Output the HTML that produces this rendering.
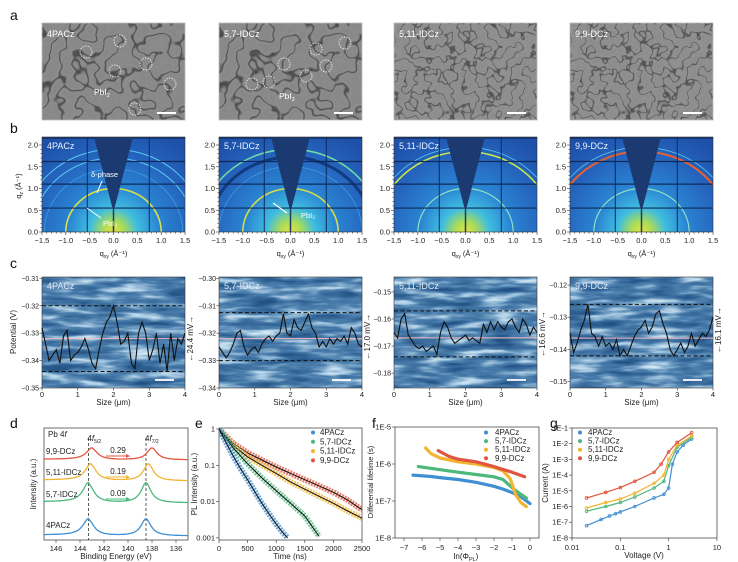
<!DOCTYPE html>
<html><head><meta charset="utf-8"><style>
html,body{margin:0;padding:0;background:#fff}
svg{display:block;font-family:"Liberation Sans",Arial,sans-serif}
</style></head><body>
<svg id="fig" width="738" height="562" viewBox="0 0 738 562" xmlns="http://www.w3.org/2000/svg">
<defs>
<filter id="semA" x="0" y="0" width="1" height="1" color-interpolation-filters="sRGB"><feTurbulence type="fractalNoise" baseFrequency="0.055" numOctaves="2" seed="3"/><feColorMatrix type="matrix" values="1 0 0 0 0 1 0 0 0 0 1 0 0 0 0 0 0 0 0 1"/><feComponentTransfer><feFuncR type="table" tableValues="0.53 0.55 0.53 0.54 0.55 0.53 0.54 0.55 0.53 0.54 0.55 0.54 0.28 0.54 0.55 0.53 0.54 0.55 0.53 0.54 0.55 0.54 0.53 0.55 0.54"/><feFuncG type="table" tableValues="0.53 0.55 0.53 0.54 0.55 0.53 0.54 0.55 0.53 0.54 0.55 0.54 0.28 0.54 0.55 0.53 0.54 0.55 0.53 0.54 0.55 0.54 0.53 0.55 0.54"/><feFuncB type="table" tableValues="0.53 0.55 0.53 0.54 0.55 0.53 0.54 0.55 0.53 0.54 0.55 0.54 0.28 0.54 0.55 0.53 0.54 0.55 0.53 0.54 0.55 0.54 0.53 0.55 0.54"/></feComponentTransfer></filter>
<filter id="semB" x="0" y="0" width="1" height="1" color-interpolation-filters="sRGB"><feTurbulence type="fractalNoise" baseFrequency="0.085" numOctaves="2" seed="7"/><feColorMatrix type="matrix" values="1 0 0 0 0 1 0 0 0 0 1 0 0 0 0 0 0 0 0 1"/><feComponentTransfer><feFuncR type="table" tableValues="0.55 0.57 0.55 0.56 0.57 0.55 0.56 0.57 0.55 0.56 0.57 0.56 0.3 0.56 0.57 0.55 0.56 0.57 0.55 0.56 0.57 0.56 0.55 0.57 0.56"/><feFuncG type="table" tableValues="0.55 0.57 0.55 0.56 0.57 0.55 0.56 0.57 0.55 0.56 0.57 0.56 0.3 0.56 0.57 0.55 0.56 0.57 0.55 0.56 0.57 0.56 0.55 0.57 0.56"/><feFuncB type="table" tableValues="0.55 0.57 0.55 0.56 0.57 0.55 0.56 0.57 0.55 0.56 0.57 0.56 0.3 0.56 0.57 0.55 0.56 0.57 0.55 0.56 0.57 0.56 0.55 0.57 0.56"/></feComponentTransfer></filter>
<filter id="kpfm" x="0" y="0" width="1" height="1" color-interpolation-filters="sRGB"><feTurbulence type="fractalNoise" baseFrequency="0.025 0.14" numOctaves="3" seed="5"/><feColorMatrix type="matrix" values="1 0 0 0 0 1 0 0 0 0 1 0 0 0 0 0 0 0 0 1"/><feComponentTransfer><feFuncR type="table" tableValues="0.1 0.16 0.3 0.72 0.97"/><feFuncG type="table" tableValues="0.27 0.35 0.5 0.84 1"/><feFuncB type="table" tableValues="0.47 0.55 0.68 0.92 1"/></feComponentTransfer></filter>
<radialGradient id="gw" gradientUnits="userSpaceOnUse" cx="71.5" cy="232" r="110">
<stop offset="0" stop-color="#e6e23a"/><stop offset="0.1" stop-color="#a8dc5a"/><stop offset="0.22" stop-color="#3fbde0"/><stop offset="0.42" stop-color="#2a84d2"/><stop offset="0.7" stop-color="#2565be"/><stop offset="1" stop-color="#1f50a8"/></radialGradient>
<clipPath id="gclip"><rect x="0" y="137" width="143" height="95"/></clipPath>
</defs>
<rect width="738" height="562" fill="#fff"/>
<g font-size="14" fill="#111">
<text x="10" y="20">a</text><text x="10" y="133">b</text><text x="10" y="268">c</text><text x="10" y="428">d</text><text x="195" y="428">e</text><text x="372" y="428">f</text><text x="550" y="428">g</text>
</g>
<g id="rowA"></g>
<g id="rowB"></g>
<g id="rowC"></g>
<g id="pd"></g>
<g id="pe"></g>
<g id="pf"></g>
<g id="pg"></g>
</svg>
<script>
const NS="http://www.w3.org/2000/svg";
function el(tag,attrs,parent){const e=document.createElementNS(NS,tag);for(const k in attrs)e.setAttribute(k,attrs[k]);parent.appendChild(e);return e;}
function tx(s,attrs,parent){const e=el('text',attrs,parent);e.textContent=s;return e;}

// ---------- data ----------
const samples=["4PACz","5,7-IDCz","5,11-IDCz","9,9-DCz"];
const colors=["#3f8fd2","#4db87c","#f2b431","#e0553f"];
const panelX=[42,219,394,570];
const kpX=[0,0.1,0.2,0.3,0.4,0.5,0.6,0.7,0.8,0.9,1.0,1.1,1.2,1.3,1.4,1.5,1.6,1.7,1.8,1.9,2.0,2.1,2.2,2.3,2.4,2.5,2.6,2.7,2.8,2.9,3.0,3.1,3.2,3.3,3.4,3.5,3.6,3.7,3.8,3.9,4.0];
const kp1=[-0.328,-0.334,-0.340,-0.338,-0.336,-0.341,-0.331,-0.329,-0.340,-0.338,-0.337,-0.335,-0.332,-0.336,-0.341,-0.343,-0.336,-0.330,-0.326,-0.324,-0.320,-0.326,-0.334,-0.333,-0.330,-0.341,-0.343,-0.330,-0.326,-0.330,-0.340,-0.336,-0.330,-0.341,-0.334,-0.344,-0.330,-0.340,-0.332,-0.334,-0.330];
const kp2=[-0.325,-0.327,-0.329,-0.327,-0.324,-0.320,-0.319,-0.325,-0.328,-0.326,-0.325,-0.327,-0.324,-0.322,-0.321,-0.323,-0.321,-0.320,-0.313,-0.320,-0.321,-0.315,-0.318,-0.319,-0.316,-0.313,-0.318,-0.320,-0.325,-0.323,-0.325,-0.322,-0.324,-0.322,-0.323,-0.321,-0.324,-0.318,-0.320,-0.324,-0.325];
const kp3=[-0.165,-0.167,-0.160,-0.158,-0.166,-0.168,-0.170,-0.171,-0.170,-0.172,-0.171,-0.170,-0.173,-0.165,-0.161,-0.163,-0.167,-0.169,-0.168,-0.167,-0.166,-0.168,-0.167,-0.168,-0.169,-0.162,-0.165,-0.161,-0.164,-0.161,-0.163,-0.164,-0.161,-0.160,-0.163,-0.165,-0.160,-0.162,-0.166,-0.163,-0.165];
const kp4=[-0.135,-0.141,-0.138,-0.134,-0.131,-0.126,-0.135,-0.136,-0.139,-0.136,-0.139,-0.138,-0.140,-0.137,-0.142,-0.140,-0.142,-0.139,-0.136,-0.134,-0.133,-0.131,-0.135,-0.133,-0.129,-0.128,-0.132,-0.135,-0.140,-0.142,-0.140,-0.138,-0.141,-0.139,-0.135,-0.139,-0.137,-0.135,-0.136,-0.134,-0.130];
const kpProfiles=[kp1,kp2,kp3,kp4];
const kpTop=[-0.3095,-0.2995,-0.1445,-0.1175];
const kpBot=[-0.350,-0.340,-0.1855,-0.152];
const kpTicks=[[-0.31,-0.32,-0.33,-0.34,-0.35],[-0.30,-0.31,-0.32,-0.33,-0.34],[-0.15,-0.16,-0.17,-0.18],[-0.12,-0.13,-0.14,-0.15]];
const kpMean=[-0.332,-0.322,-0.167,-0.1365];
const kpHi=[-0.320,-0.3125,-0.157,-0.126];
const kpLo=[-0.344,-0.330,-0.174,-0.142];
const kpDelta=["24.4 mV","17.0 mV","16.6 mV","16.1 mV"];
const xpsPeak52=[143.3,143.3,143.1,143.0];
const xpsPeak72=[138.5,138.5,138.3,138.0];
const xpsBase=[536,503,481,460];
const xpsHeight=[17,20,17,12];
const xpsShift=["","0.09","0.19","0.29"];
const trplT=[[0,100,200,300,400,500,600,700,800,900,1000,1100,1200],[0,250,500,750,1000,1250,1500,1750],[0,250,500,750,1000,1250,1500,1750,2000,2250,2500],[0,250,500,750,1000,1250,1500,1750,2000,2250,2500]];
const trplI=[[1,0.5,0.25,0.13,0.07,0.04,0.022,0.012,0.0068,0.004,0.0024,0.0015,0.001],[1,0.3,0.11,0.045,0.02,0.009,0.004,0.0011],[1,0.35,0.17,0.1,0.06,0.035,0.022,0.014,0.009,0.0055,0.0035],[1,0.4,0.22,0.14,0.09,0.06,0.04,0.027,0.018,0.011,0.006]];
const trplXTicks=[0,500,1000,1500,2000,2500];
const trplYTicks=[1,0.1,0.01,0.001];
const trplYLabels=["1","0.1","0.01","0.001"];
const dlX=[[-6.5,-5.5,-5,-4,-3,-2,-1.5,-1,-0.5,0],[-6.2,-5,-4,-3,-2,-1.5,-1,-0.5,-0.2],[-5.8,-5.5,-5,-4,-3,-2,-1.5,-1.1,-0.8,-0.5,-0.2],[-5.1,-4.5,-4,-3,-2,-1,-0.3]];
const dlY=[[5e-7,4.6e-7,4.3e-7,3.8e-7,3.2e-7,2.5e-7,2.1e-7,1.7e-7,1.3e-7,8.5e-8],[8.5e-7,7e-7,6e-7,5.2e-7,4.5e-7,3.8e-7,2.3e-7,1.5e-7,1.2e-7],[2.7e-6,1.9e-6,1.45e-6,1.15e-6,1.0e-6,8e-7,6.5e-7,4e-7,1.5e-7,9e-8,7e-8],[2.3e-6,1.6e-6,1.35e-6,1.15e-6,8.5e-7,6e-7,4.5e-7]];
const dlXTicks=[-7,-6,-5,-4,-3,-2,-1,0];
const dlYTicks=[1e-5,1e-6,1e-7,1e-8];
const dlYLabels=["1E-5","1E-6","1E-7","1E-8"];
const ivV=[[0.02,0.04,0.06,0.08,0.1,0.2,0.5,0.8,1,1.2,1.5,2,3],[0.02,0.05,0.1,0.2,0.5,0.8,1,1.5,3],[0.02,0.05,0.1,0.2,0.5,0.8,1,1.5,3],[0.02,0.05,0.1,0.2,0.5,0.7,1,1.5,3]];
const ivI=[[6e-8,1.5e-7,2.5e-7,3.5e-7,4.5e-7,1e-6,3.5e-6,6e-6,1.5e-5,5e-4,3e-3,8e-3,2e-2],[5e-7,1e-6,1.8e-6,4e-6,1.5e-5,4e-5,4e-4,6e-3,2.5e-2],[8e-7,1.8e-6,3e-6,7e-6,3e-5,1e-4,1e-3,8e-3,3e-2],[3.5e-6,8e-6,1.6e-5,4e-5,1.5e-4,5e-4,3e-3,1.2e-2,5e-2]];
const ivXTicks=[0.01,0.1,1,10];
const ivXLabels=["0.01","0.1","1","10"];
const ivYTicks=[1e-1,1e-2,1e-3,1e-4,1e-5,1e-6,1e-7,1e-8];
const ivYLabels=["1E-1","1E-2","1E-3","1E-4","1E-5","1E-6","1E-7","1E-8"];

const L=Math.log10;
// ---------- row a ----------
const rowA=document.getElementById('rowA');
const circles=[[[44,52],[78,41],[73,71],[104,64],[128,84],[93,109]],[[33,84],[50,82],[65,64],[87,76],[97,49],[107,66],[126,43]]];
samples.forEach((s,i)=>{
  const g=el('g',{transform:`translate(${panelX[i]},0)`},rowA);
  
  
  el('rect',{x:0,y:23,width:143,height:97,fill:'#8d8d8d',filter:i<2?'url(#semA)':'url(#semB)'},g);
  el('rect',{x:0,y:23,width:143,height:97,fill:'none',stroke:'#bbb','stroke-width':0.8},g);
  const t=tx(s,{x:5,y:37,'font-size':9,fill:'#fff'},g);
  
  
  el('line',{x1:i<2?115:113,x2:i<2?134:132,y1:113,y2:113,stroke:'#fff','stroke-width':2},g);
  if(i<2){
    circles[i].forEach(c=>{el('circle',{cx:c[0],cy:c[1],r:6,fill:'none',stroke:'#f4e6e6','stroke-width':0.9,'stroke-dasharray':'1.5 1.2'},g);});
    const p=tx('PbI',{x:i==0?52:60,y:i==0?95:99,'font-size':8.5,fill:'#fff'},g);
    el('tspan',{'font-size':5.5,dy:2},p).textContent='2';
  }
});
// ---------- row b ----------
const rowB=document.getElementById('rowB');
samples.forEach((s,i)=>{
  const g=el('g',{transform:`translate(${panelX[i]},0)`},rowB);
  
  
  const c=el('g',{'clip-path':'url(#gclip)'},g);
  el('rect',{x:0,y:137,width:143,height:95,fill:'url(#gw)'},c);
  const sx=47.7,sy=43.5,cx=71.5,cy=232;
  const arcs=i==0?[[1.0,'#d8e04a',1.6],[1.7,'#5ac8f0',1],[1.9,'#5ac8f0',1],[1.45,'#3aa0e0',0.8]]:i==1?[[1.0,'#d6dc48',1.6],[1.9,'#6ed8a8',1.6],[1.72,'#123a80',3],[1.5,'#3aa0e0',0.8]]:i==2?[[1.0,'#8fe0c0',1.2],[1.85,'#c8e84a',1.6],[1.95,'#5ac8f0',0.8]]:[[1.0,'#8fe0c0',1.2],[1.85,'#e86030',2],[1.95,'#5ac8f0',0.8]];
  arcs.forEach(a=>{el('ellipse',{cx:cx,cy:cy,rx:sx*a[0],ry:sy*a[0],fill:'none',stroke:a[1],'stroke-width':a[2]},c);});
  [0.55,1.1,1.62,2.16].forEach(q=>el('line',{x1:0,x2:143,y1:cy-q*sy,y2:cy-q*sy,stroke:'#0f2a5a','stroke-width':1.2},c));
  [-0.55,0.75].forEach(q=>el('line',{x1:cx+q*sx,x2:cx+q*sx,y1:137,y2:232,stroke:'#0f2a5a','stroke-width':1},c));
  el('polygon',{points:'52,137 91,137 71.5,212',fill:'#1c3a72'},c);
  el('line',{x1:71.5,x2:71.5,y1:210,y2:232,stroke:'#1c3a72','stroke-width':1.5},c);
  el('rect',{x:0,y:137,width:143,height:95,fill:'none',stroke:'#333','stroke-width':0.6},g);
  const t=tx(s,{x:5,y:149,'font-size':9,fill:'#e8f4ff'},g);
  
  
  for(let q=-1.5;q<=1.501;q+=0.1){const x=cx+q*sx;const major=Math.abs(q*2-Math.round(q*2))<0.01;el('line',{x1:x,x2:x,y1:232,y2:232+(major?3:1.6),stroke:'#333','stroke-width':0.6},g);
    if(major)tx(q.toFixed(1).replace('-0.0','0.0').replace('-','\u2212'),{x:x,y:243,'font-size':7.5,'text-anchor':'middle',fill:'#222'},g);}
  for(let q=0;q<=2.01;q+=0.1){const y=cy-q*sy;const major=Math.abs(q*2-Math.round(q*2))<0.01;el('line',{x1:0,x2:-(major?3:1.6),y1:y,y2:y,stroke:'#333','stroke-width':0.6},g);
    if(major)tx(q.toFixed(1),{x:-4,y:y+2.6,'font-size':7.5,'text-anchor':'end',fill:'#222'},g);}
  const xt=tx('q',{x:cx,y:256,'font-size':7.5,'text-anchor':'middle',fill:'#222'},g);
  el('tspan',{'font-size':5,dy:2},xt).textContent='xy';
  el('tspan',{dy:-2},xt).textContent=' (\u00c5\u207b\u00b9)';
  if(i==0){
    tx('\u03b4-phase',{x:49,y:177,'font-size':7.5,fill:'#fff'},g);
    el('line',{x1:60,x2:55,y1:181,y2:193,stroke:'#fff','stroke-width':1},g);
    tx('PbI\u2082',{x:61,y:226,'font-size':7.5,fill:'#fff'},g);
    el('line',{x1:59,x2:45,y1:218,y2:208,stroke:'#fff','stroke-width':1},g);
  }
  if(i==1){
    tx('PbI\u2082',{x:82,y:218,'font-size':7.5,fill:'#fff'},g);
    el('line',{x1:68,x2:54,y1:213,y2:203,stroke:'#fff','stroke-width':1.2},g);
  }
});
const qz=tx('q',{transform:'translate(21,186) rotate(-90)','font-size':7.5,'text-anchor':'middle',fill:'#222'},rowB);


el('tspan',{'font-size':5,dy:2},qz).textContent='z';
el('tspan',{dy:-2},qz).textContent=' (\u00c5\u207b\u00b9)';
// ---------- row c ----------
const rowC=document.getElementById('rowC');
samples.forEach((s,i)=>{
  const x0=panelX[i],W=143,top=277,bot=388;
  const xs=u=>x0+u/4*W;
  const ys=v=>top+(kpTop[i]-v)/(kpTop[i]-kpBot[i])*(bot-top);
  const g=el('g',{},rowC);
  
  
  el('rect',{x:x0,y:top,width:W,height:bot-top,fill:'#4f7aa8',filter:'url(#kpfm)'},g);
  el('rect',{x:x0,y:top,width:W,height:bot-top,fill:'none',stroke:'#333','stroke-width':0.6},g);
  tx(s,{x:x0+5,y:top+12,'font-size':9,fill:'#dfe9f5'},g);
  el('line',{x1:x0+113,x2:x0+132,y1:bot-8,y2:bot-8,stroke:'#fff','stroke-width':1.8},g);
  [kpHi[i],kpLo[i]].forEach(v=>{const d=el('line',{x1:x0,x2:x0+W,y1:ys(v),y2:ys(v),stroke:'#111','stroke-width':1,'stroke-dasharray':'4 2.5'},g);
    
    });
  const m=el('line',{x1:x0,x2:x0+W,y1:ys(kpMean[i]),y2:ys(kpMean[i]),stroke:'#f2b8bc','stroke-width':1},g);
  
  
  const pts=kpProfiles[i].map((v,k)=>xs(kpX[k]).toFixed(1)+','+ys(v).toFixed(1)).join(' ');
  const pl=el('polyline',{points:pts,fill:'none',stroke:'#111','stroke-width':1.1},g);
  
  
  kpTicks[i].forEach(v=>{el('line',{x1:x0,x2:x0-2.5,y1:ys(v),y2:ys(v),stroke:'#333','stroke-width':0.6},g);
    tx(v.toFixed(2).replace('-','\u2212'),{x:x0-3,y:ys(v)+2.5,'font-size':7,'text-anchor':'end',fill:'#222'},g);});
  [0,1,2,3,4].forEach(u=>{el('line',{x1:xs(u),x2:xs(u),y1:bot,y2:bot+2.5,stroke:'#333','stroke-width':0.6},g);
    tx(String(u),{x:xs(u),y:bot+9,'font-size':7.5,'text-anchor':'middle',fill:'#222'},g);});
  tx('Size (\u03bcm)',{x:x0+W/2,y:bot+17,'font-size':8,'text-anchor':'middle',fill:'#222'},g);
  const dy=(ys(kpHi[i])+ys(kpLo[i]))/2;
  const dl=tx('\u2190'+kpDelta[i]+'\u2192',{transform:`translate(${x0+W+8},${dy}) rotate(-90)`,'font-size':8,'text-anchor':'middle',fill:'#222'},g);
  
  
});
const pt=tx('Potential (V)',{transform:'translate(16,332) rotate(-90)','font-size':8,'text-anchor':'middle',fill:'#222'},rowC);



// ---------- d: XPS ----------
const pd=document.getElementById('pd');
const xd=E=>44+(147-E)*12;
el('rect',{x:44,y:428,width:144,height:112,fill:'none',stroke:'#333','stroke-width':0.7},pd);
[146,144,142,140,138,136].forEach(E=>{el('line',{x1:xd(E),x2:xd(E),y1:540,y2:543,stroke:'#333','stroke-width':0.6},pd);
  tx(String(E),{x:xd(E),y:551,'font-size':7.5,'text-anchor':'middle',fill:'#222'},pd);});
tx('Binding Energy (eV)',{x:116,y:559,'font-size':8,'text-anchor':'middle',fill:'#222'},pd);
tx('Intensity (a.u.)',{transform:'translate(36,484) rotate(-90)','font-size':8,'text-anchor':'middle',fill:'#222'},pd);
const pb=tx('Pb 4',{x:48,y:437,'font-size':8,fill:'#222'},pd);
el('tspan',{'font-style':'italic'},pb).textContent='f';
el('line',{x1:xd(143.3),x2:xd(143.3),y1:438,y2:540,stroke:'#333','stroke-width':0.8,'stroke-dasharray':'3 2'},pd);
el('line',{x1:xd(138.5),x2:xd(138.5),y1:438,y2:540,stroke:'#333','stroke-width':0.8,'stroke-dasharray':'3 2'},pd);
const l1=tx('4',{x:xd(143.3)-1,y:441,'font-size':8,fill:'#222'},pd);el('tspan',{'font-style':'italic'},l1).textContent='f';el('tspan',{'font-size':5,dy:2},l1).textContent='5/2';
const l2=tx('4',{x:xd(138.5)-1,y:441,'font-size':8,fill:'#222'},pd);el('tspan',{'font-style':'italic'},l2).textContent='f';el('tspan',{'font-size':5,dy:2},l2).textContent='7/2';
samples.forEach((s,i)=>{
  const pts=[];
  for(let E=147;E>=135;E-=0.1){
    const l=(c,w)=>1/(1+((E-c)/w)**2);
    const v=0.95*l(xpsPeak52[i],0.55)+1.0*l(xpsPeak72[i],0.5)+(E>xpsPeak52[i]?0.06:0);
    pts.push(xd(E).toFixed(1)+','+(xpsBase[i]-v*xpsHeight[i]).toFixed(1));
  }
  const c=el('polyline',{points:pts.join(' '),fill:'none',stroke:colors[i],'stroke-width':1.3},pd);
  
  
  tx(s,{x:46,y:xpsBase[i]-(i==0?8:6),'font-size':8,fill:'#222'},pd);
  if(xpsShift[i]){
    const ay=xpsBase[i]-4;
    el('line',{x1:106,x2:126,y1:ay,y2:ay,stroke:colors[i],'stroke-width':1},pd);
    el('polygon',{points:`126,${ay-2} 130,${ay} 126,${ay+2}`,fill:colors[i]},pd);
    const sl=tx(xpsShift[i],{x:118,y:ay-3,'font-size':8,'text-anchor':'middle',fill:'#222'},pd);
    
    
  }
});

// ---------- e: TRPL ----------
const pe=document.getElementById('pe');
const xe=t=>219+t*0.0572;
const ye=v=>429+(-L(v))*36.3;
el('rect',{x:219,y:428,width:143,height:112,fill:'none',stroke:'#333','stroke-width':0.7},pe);
trplXTicks.forEach(t=>{el('line',{x1:xe(t),x2:xe(t),y1:540,y2:543,stroke:'#333','stroke-width':0.6},pe);
  tx(String(t),{x:xe(t),y:551,'font-size':7.5,'text-anchor':'middle',fill:'#222'},pe);});
trplYTicks.forEach((v,k)=>{el('line',{x1:219,x2:216,y1:ye(v),y2:ye(v),stroke:'#333','stroke-width':0.6},pe);
  tx(trplYLabels[k],{x:215,y:ye(v)+2.5,'font-size':7.5,'text-anchor':'end',fill:'#222'},pe);});
tx('Time (ns)',{x:290,y:559,'font-size':8,'text-anchor':'middle',fill:'#222'},pe);
tx('PL Intensity (a.u.)',{transform:'translate(197,484) rotate(-90)','font-size':8,'text-anchor':'middle',fill:'#222'},pe);
const clipE=el('clipPath',{id:'clipE'},pe);el('rect',{x:219,y:428,width:143,height:112},clipE);
const eg=el('g',{'clip-path':'url(#clipE)'},pe);
[3,2,1,0].forEach(i=>{
  const pts=trplT[i].map((t,k)=>xe(t).toFixed(1)+','+ye(trplI[i][k]).toFixed(1)).join(' ');
  const b=el('polyline',{points:pts,fill:'none',stroke:colors[i],'stroke-width':6,'stroke-opacity':0.75,'stroke-dasharray':'2 1'},eg);
  
  
  const f=el('polyline',{points:pts,fill:'none',stroke:'#111','stroke-width':1},eg);
  
  
});
samples.forEach((s,i)=>{
  const y=435+i*9.3;
  const m=el('circle',{cx:313,cy:y-2.5,r:2,fill:colors[i]},pe);
  
  
  tx(s,{x:320,y:y,'font-size':8,fill:'#222'},pe);
});

// ---------- f: differential lifetime ----------
const pf=document.getElementById('pf');
const xf=u=>395+(u+7.5)*18;
const yf=v=>427+(-5-L(v))*37;
el('rect',{x:395,y:427,width:144,height:111,fill:'none',stroke:'#333','stroke-width':0.7},pf);
dlXTicks.forEach(u=>{el('line',{x1:xf(u),x2:xf(u),y1:538,y2:541,stroke:'#333','stroke-width':0.6},pf);
  tx(String(u).replace('-','\u2212'),{x:xf(u),y:550,'font-size':7.5,'text-anchor':'middle',fill:'#222'},pf);});
dlYTicks.forEach((v,k)=>{el('line',{x1:395,x2:392,y1:yf(v),y2:yf(v),stroke:'#333','stroke-width':0.6},pf);
  tx(dlYLabels[k],{x:391,y:yf(v)+2.5,'font-size':7.5,'text-anchor':'end',fill:'#222'},pf);});
const lnl=tx('ln(\u03a6',{x:466,y:559,'font-size':8,'text-anchor':'middle',fill:'#222'},pf);
el('tspan',{'font-size':5.5,dy:2},lnl).textContent='PL';
el('tspan',{dy:-2},lnl).textContent=')';
tx('Differential lifetime (s)',{transform:'translate(373,482) rotate(-90)','font-size':7.5,'text-anchor':'middle',fill:'#222'},pf);
dlX.forEach((xs,i)=>{
  const pts=xs.map((u,k)=>xf(u).toFixed(1)+','+yf(dlY[i][k]).toFixed(1)).join(' ');
  const c=el('polyline',{points:pts,fill:'none',stroke:colors[i],'stroke-width':3.2,'stroke-linejoin':'round','stroke-linecap':'round'},pf);
  
  
});
samples.forEach((s,i)=>{
  const y=435+i*8.6;
  const m=el('circle',{cx:486,cy:y-2.5,r:2,fill:colors[i]},pf);
  
  
  tx(s,{x:495,y:y,'font-size':8,fill:'#222'},pf);
});

// ---------- g: I-V ----------
const pg=document.getElementById('pg');
const xg=v=>572+(L(v)+2)*48.3;
const yg=v=>428+(-1-L(v))*15.7;
el('rect',{x:572,y:428,width:145,height:110,fill:'none',stroke:'#333','stroke-width':0.7},pg);
ivXTicks.forEach((v,k)=>{el('line',{x1:xg(v),x2:xg(v),y1:538,y2:541,stroke:'#333','stroke-width':0.6},pg);
  tx(ivXLabels[k],{x:xg(v),y:550,'font-size':7.5,'text-anchor':'middle',fill:'#222'},pg);});
ivYTicks.forEach((v,k)=>{el('line',{x1:572,x2:569,y1:yg(v),y2:yg(v),stroke:'#333','stroke-width':0.6},pg);
  tx(ivYLabels[k],{x:568,y:yg(v)+2.5,'font-size':7.5,'text-anchor':'end',fill:'#222'},pg);});
tx('Voltage (V)',{x:644,y:558,'font-size':8,'text-anchor':'middle',fill:'#222'},pg);
tx('Current (A)',{transform:'translate(548,483) rotate(-90)','font-size':8,'text-anchor':'middle',fill:'#222'},pg);
ivV.forEach((vs,i)=>{
  const pts=vs.map((v,k)=>xg(v).toFixed(1)+','+yg(ivI[i][k]).toFixed(1)).join(' ');
  const c=el('polyline',{points:pts,fill:'none',stroke:colors[i],'stroke-width':1.2},pg);
  
  
  vs.forEach((v,k)=>{const p=el('circle',{cx:xg(v),cy:yg(ivI[i][k]),r:1.4,fill:'none',stroke:colors[i],'stroke-width':0.8},pg);
    
    });
});
samples.forEach((s,i)=>{
  const y=435+i*8.6;
  const m=el('circle',{cx:580,cy:y-2.5,r:2,fill:colors[i]},pg);
  
  
  tx(s,{x:588,y:y,'font-size':8,fill:'#222'},pg);
});
</script>
</body></html>
